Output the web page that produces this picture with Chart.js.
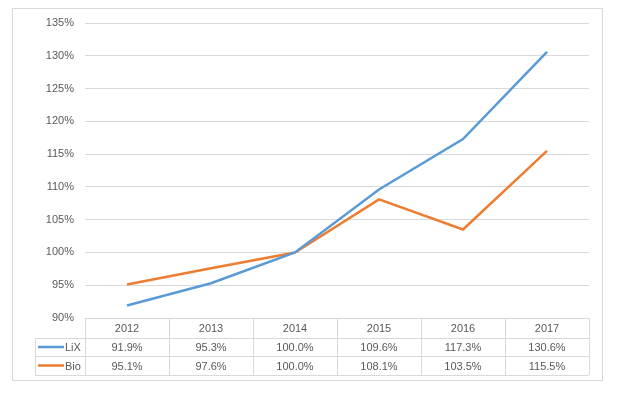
<!DOCTYPE html>
<html>
<head>
<meta charset="utf-8">
<script src="https://cdn.jsdelivr.net/npm/chart.js@4"></script>
<style>
  html, body { margin: 0; padding: 0; background: #fff; }
  #wrap { width: 619px; height: 393px; position: relative; }
</style>
</head>
<body>
<div id="wrap"><canvas id="chart"></canvas></div>
<script>
const years = ['2012', '2013', '2014', '2015', '2016', '2017'];
const lixValues = [91.9, 95.3, 100.0, 109.6, 117.3, 130.6];
const bioValues = [95.1, 97.6, 100.0, 108.1, 103.5, 115.5];
const yTicks = [90, 95, 100, 105, 110, 115, 120, 125, 130, 135];

const BLUE = '#5b9bd5';
const ORANGE = '#ed7d31';
const LINE_GREY = '#d9d9d9';
const TEXT = '#595959';
const FONT = '11px "Liberation Sans", Arial, sans-serif';

// outer frame of the chart
const framePlugin = {
    id: 'frame',
    beforeDraw(chart) {
        const ctx = chart.ctx;
        ctx.save();
        ctx.fillStyle = '#fff';
        ctx.fillRect(0, 0, chart.width, chart.height);
        ctx.strokeStyle = LINE_GREY;
        ctx.lineWidth = 1;
        ctx.strokeRect(12.5, 8.5, 590, 372);
        ctx.restore();
    }
};

// data table under the plot, laid out on the x scale
const tablePlugin = {
    id: 'dataTable',
    afterDraw(chart) {
        const ctx = chart.ctx;
        const x = chart.scales.x;
        const area = chart.chartArea;
        const step = x.getPixelForValue(1) - x.getPixelForValue(0);
        const top = area.bottom;
        const rows = [top, top + 20, top + 38, top + 57];
        const keyLeft = 35;

        ctx.save();
        ctx.strokeStyle = LINE_GREY;
        ctx.lineWidth = 1;
        ctx.beginPath();
        // horizontal lines
        ctx.moveTo(area.left, rows[0] + 0.5); ctx.lineTo(area.right, rows[0] + 0.5);
        for (let i = 1; i < rows.length; i++) {
            ctx.moveTo(keyLeft, rows[i] + 0.5); ctx.lineTo(area.right, rows[i] + 0.5);
        }
        // vertical lines
        for (let i = 0; i <= years.length; i++) {
            const px = Math.round(x.getPixelForValue(i) - step / 2) + 0.5;
            ctx.moveTo(px, rows[0]); ctx.lineTo(px, rows[3]);
        }
        ctx.moveTo(keyLeft + 0.5, rows[1]); ctx.lineTo(keyLeft + 0.5, rows[3]);
        ctx.stroke();

        ctx.font = FONT;
        ctx.fillStyle = TEXT;
        ctx.textAlign = 'center';
        ctx.textBaseline = 'middle';
        years.forEach((y, i) => {
            const cx = x.getPixelForValue(i);
            ctx.fillText(y, cx, (rows[0] + rows[1]) / 2 + 1);
            ctx.fillText(lixValues[i].toFixed(1) + '%', cx, (rows[1] + rows[2]) / 2 + 1);
            ctx.fillText(bioValues[i].toFixed(1) + '%', cx, (rows[2] + rows[3]) / 2 + 1);
        });

        // legend keys in the first column
        const keys = [['LiX', BLUE], ['Bio', ORANGE]];
        keys.forEach(([name, color], k) => {
            const cy = (rows[k + 1] + rows[k + 2]) / 2;
            ctx.strokeStyle = color;
            ctx.lineWidth = 2.5;
            ctx.beginPath();
            ctx.moveTo(38, cy); ctx.lineTo(64, cy);
            ctx.stroke();
            ctx.fillStyle = TEXT;
            ctx.textAlign = 'left';
            ctx.fillText(name, 65, cy + 1);
        });
        ctx.restore();
    }
};

new Chart(document.getElementById('chart'), {
    type: 'line',
    data: {
        labels: years,
        datasets: [
            {
                label: 'LiX',
                data: lixValues,
                borderColor: BLUE,
                backgroundColor: BLUE,
                borderWidth: 2.5,
                pointRadius: 0,
                tension: 0
            },
            {
                label: 'Bio',
                data: bioValues,
                borderColor: ORANGE,
                backgroundColor: ORANGE,
                borderWidth: 2.5,
                pointRadius: 0,
                tension: 0
            }
        ]
    },
    options: {
        responsive: true,
        maintainAspectRatio: false,
        animation: false,
        layout: { padding: { top: 23, right: 30, bottom: 75, left: 0 } },
        plugins: {
            legend: { display: false },
            tooltip: { enabled: false }
        },
        scales: {
            x: {
                display: false,
                offset: true
            },
            y: {
                min: 90,
                max: 135,
                afterFit(scale) { scale.width = 85; },
                afterBuildTicks(scale) { scale.ticks = yTicks.map(v => ({ value: v })); },
                border: { display: false },
                grid: { color: LINE_GREY, drawTicks: false },
                ticks: {
                    padding: 11,
                    color: TEXT,
                    font: { family: '"Liberation Sans", Arial, sans-serif', size: 11 },
                    callback: v => v + '%'
                }
            }
        }
    },
    plugins: [framePlugin, tablePlugin]
});
</script>
</body>
</html>
